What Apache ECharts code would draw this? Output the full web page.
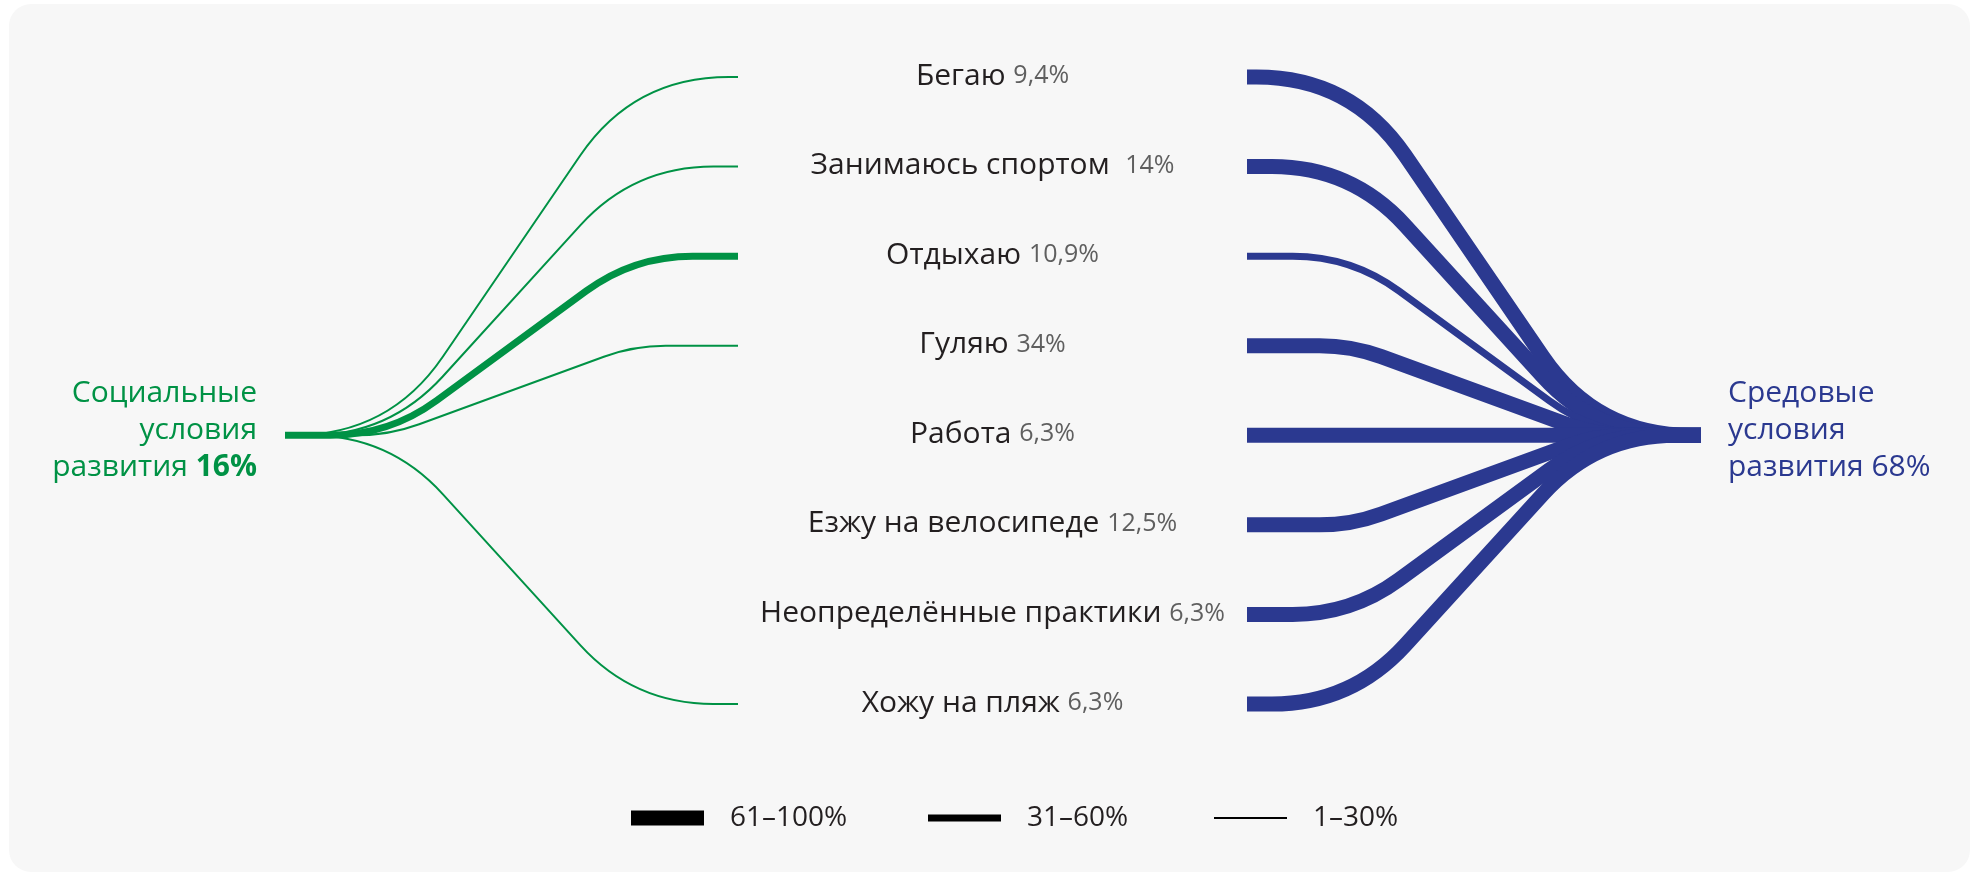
<!DOCTYPE html>
<html>
<head>
<meta charset="utf-8">
<script src="https://cdn.jsdelivr.net/npm/echarts@6/dist/echarts.min.js"></script>
<style>
  html, body { margin: 0; padding: 0; background: #ffffff; }
  #chart { width: 1979px; height: 876px; }
</style>
</head>
<body>
<div id="chart"></div>
<script>
// Activities in the middle column and the share of respondents naming each one
const activities = ['Бегаю', 'Занимаюсь спортом ', 'Отдыхаю', 'Гуляю', 'Работа',
  'Езжу на велосипеде', 'Неопределённые практики', 'Хожу на пляж'];
const activityShares = [9.4, 14, 10.9, 34, 6.3, 12.5, 6.3, 6.3];

// Link strength band of each activity to the two hubs:
// 0 = no link, 1 = 1–30%, 2 = 31–60%, 3 = 61–100%
const socialBands = [1, 1, 2, 1, 0, 0, 0, 1];
const environmentBands = [3, 3, 2, 3, 3, 3, 3, 3];

// Hubs: social conditions (left) and environmental conditions (right)
const hubNames = ['Социальные\nусловия\nразвития', 'Средовые\nусловия\nразвития'];
const hubShares = [16, 68];

// Legend entries, strongest band first
const bandLevels = [3, 2, 1];
const bandLabels = ['61–100%', '31–60%', '1–30%'];

// ---- styling / layout ----
const FONT = '"Open Sans", "Noto Sans", sans-serif';
const GREEN = '#009245';
const BLUE = '#2b3990';
const BAND_WIDTH = { 1: 2, 2: 7, 3: 15 };
// horizontal stages, in x-axis units
const STAGE = { socialHub: 0, socialEnd: 453, envStart: 962, envHub: 1416 };
const LABEL_X = (STAGE.socialEnd + STAGE.envStart) / 2;
const HUB_ROW = 4;
const RUN_IN = 0.23;    // share of the horizontal span kept flat at each end
const RADIUS = 180;     // bend radius of the links, px

const fmtShare = v => String(v).replace('.', ',');

// A flat–diagonal–flat link with rounded bends, from left point a to right point b
function linkPath(a, b) {
  const pt = p => p[0].toFixed(2) + ',' + p[1].toFixed(2);
  if (Math.abs(a[1] - b[1]) < 0.5) {
    return 'M' + pt(a) + 'L' + pt(b);
  }
  const dx = b[0] - a[0];
  const P = [a[0] + RUN_IN * dx, a[1]];
  const Q = [b[0] - RUN_IN * dx, b[1]];
  const diag = Math.hypot(Q[0] - P[0], Q[1] - P[1]);
  const ux = (Q[0] - P[0]) / diag, uy = (Q[1] - P[1]) / diag;
  const turn = Math.acos(Math.max(-1, Math.min(1, ux)));
  const d = Math.min(RADIUS * Math.tan(turn / 2), RUN_IN * dx, diag / 2);
  const P1 = [P[0] - d, P[1]], P2 = [P[0] + d * ux, P[1] + d * uy];
  const Q1 = [Q[0] - d * ux, Q[1] - d * uy], Q2 = [Q[0] + d, Q[1]];
  return 'M' + pt(a) + 'L' + pt(P1) + 'Q' + pt(P) + ' ' + pt(P2) +
    'L' + pt(Q1) + 'Q' + pt(Q) + ' ' + pt(Q2) + 'L' + pt(b);
}

function linkSeries(bands, hubX, rowX, hubOnLeft, color) {
  const data = [];
  bands.forEach((b, i) => { if (b > 0) data.push([i, b]); });
  return {
    type: 'custom',
    silent: true,
    data: data,
    encode: { y: 0 },
    renderItem: function (params, api) {
      const row = api.value(0);
      const band = api.value(1);
      const hub = api.coord([hubX, HUB_ROW]);
      const end = api.coord([rowX, row]);
      const a = hubOnLeft ? hub : end;
      const b = hubOnLeft ? end : hub;
      return {
        type: 'path',
        shape: { pathData: linkPath(a, b) },
        style: { fill: 'none', stroke: color, lineWidth: BAND_WIDTH[band],
                 lineCap: 'butt', lineJoin: 'round' }
      };
    }
  };
}

const labelSeries = {
  type: 'custom',
  silent: true,
  data: activities.map((n, i) => [i]),
  encode: { y: 0 },
  renderItem: function (params, api) {
    const i = api.value(0);
    const p = api.coord([LABEL_X, i]);
    return {
      type: 'text',
      x: p[0], y: p[1] - 1,
      style: {
        text: '{n|' + activities[i] + ' }{p|' + fmtShare(activityShares[i]) + '%}',
        align: 'center', verticalAlign: 'middle',
        rich: {
          n: { fontSize: 30, fontFamily: FONT, fill: '#231f20' },
          p: { fontSize: 25, fontFamily: FONT, fill: '#5f5f5f' }
        }
      }
    };
  }
};

const hubSeries = {
  type: 'custom',
  silent: true,
  data: hubNames.map((n, i) => [i]),
  encode: { y: 0 },
  renderItem: function (params, api) {
    const i = api.value(0);
    const left = i === 0;
    const p = api.coord([left ? STAGE.socialHub : STAGE.envHub, HUB_ROW]);
    const color = left ? GREEN : BLUE;
    const lines = hubNames[i].split('\n');
    const last = lines.pop();
    const text = lines.map(l => '{t|' + l + '}').join('\n') +
      '\n{t|' + last + ' }{s|' + hubShares[i] + '%}';
    const side = left ? 'right' : 'left';
    return {
      type: 'text',
      x: left ? p[0] - 28 : p[0] + 27,
      y: p[1] - 5,
      style: {
        text: text,
        align: side,
        verticalAlign: 'middle',
        rich: {
          t: { fontSize: 30, fontFamily: FONT, fill: color, lineHeight: 37, align: side },
          s: { fontSize: 30, fontFamily: FONT, fill: color, lineHeight: 37,
               fontWeight: left ? 'bold' : 'normal', align: side }
        }
      }
    };
  }
};

// legend: a bar of each band width followed by its label
const LEGEND_X = [631, 928, 1214];
const LEGEND_Y = 818;
const legendGraphics = [];
bandLevels.forEach((lvl, k) => {
  const h = BAND_WIDTH[lvl];
  legendGraphics.push({
    type: 'rect', silent: true,
    shape: { x: LEGEND_X[k], y: LEGEND_Y - h / 2, width: 73, height: h },
    style: { fill: '#000000' }
  });
  legendGraphics.push({
    type: 'text', silent: true,
    x: LEGEND_X[k] + 99, y: LEGEND_Y,
    style: { text: bandLabels[k], fontSize: 28, fontFamily: FONT, fill: '#231f20',
             align: 'left', verticalAlign: 'middle' }
  });
});

const chart = echarts.init(document.getElementById('chart'), null, { renderer: 'canvas' });
chart.setOption({
  backgroundColor: '#ffffff',
  animation: false,
  grid: { left: 285, width: 1416, top: 77, bottom: 172 },
  xAxis: { type: 'value', min: STAGE.socialHub, max: STAGE.envHub, show: false },
  yAxis: { type: 'category', data: activities, inverse: true, boundaryGap: false, show: false },
  graphic: [
    { type: 'rect', silent: true, z: -10,
      shape: { x: 9, y: 4, width: 1961, height: 868, r: 22 },
      style: { fill: '#f7f7f7' } }
  ].concat(legendGraphics),
  series: [
    linkSeries(socialBands, STAGE.socialHub, STAGE.socialEnd, true, GREEN),
    linkSeries(environmentBands, STAGE.envHub, STAGE.envStart, false, BLUE),
    labelSeries,
    hubSeries
  ]
});
</script>
</body>
</html>
